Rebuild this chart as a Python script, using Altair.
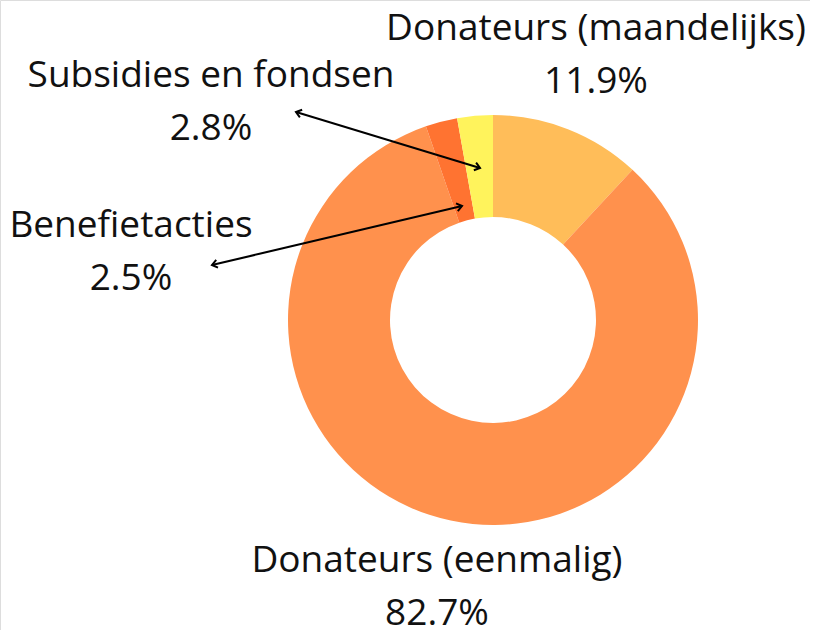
import altair as alt
import pandas as pd
import math

categories = ["Donateurs (maandelijks)", "Donateurs (eenmalig)", "Benefietacties", "Subsidies en fondsen"]
values = [11.9, 82.7, 2.5, 2.8]
colors = ["#FFBD59", "#FF914D", "#FF7331", "#FFF35C"]

df = pd.DataFrame({
    "category": categories,
    "value": values,
    "order": list(range(len(categories))),
})
df["label"] = [f"{c}\n{v:.1f}%" for c, v in zip(categories, values)]

W, H = 810, 630
CX, CY = 493, 320

base = alt.Chart(df)

donut = base.mark_arc(radius=205, radius2=103).encode(
    theta=alt.Theta("value:Q", stack=True),
    order=alt.Order("order:Q"),
    color=alt.Color("category:N", scale=alt.Scale(domain=categories, range=colors), legend=None),
    x=alt.value(CX),
    y=alt.value(CY),
)

# label anchor positions (layout, baseline of first line)
label_pos = {
    "Donateurs (maandelijks)": (596, 40),
    "Donateurs (eenmalig)": (437, 572),
    "Benefietacties": (131, 237),
    "Subsidies en fondsen": (211, 87),
}

layers = [donut]
for cat, (lx, ly) in label_pos.items():
    layers.append(
        alt.Chart(df).transform_filter(alt.datum.category == cat).mark_text(
            font="Open Sans", fontSize=37, color="#111111", align="center",
            baseline="alphabetic", lineBreak="\n", lineHeight=53,
        ).encode(text="label:N", x=alt.value(lx), y=alt.value(ly))
    )

# leader arrows: (tail x, tail y, head x, head y)
arrows = [
    ("Subsidies en fondsen", 296, 112, 480, 168),
    ("Benefietacties", 212, 265, 462, 206),
]
chevron = "M-1,-0.75L0,0L-1,0.75"
for cat, x1, y1, x2, y2 in arrows:
    one = alt.Chart(df).transform_filter(alt.datum.category == cat)
    layers.append(one.mark_rule(color="black", strokeWidth=2).encode(
        x=alt.value(x1), y=alt.value(y1), x2=alt.value(x2), y2=alt.value(y2)))
    ang = math.degrees(math.atan2(y2 - y1, x2 - x1)) % 360
    layers.append(one.mark_point(shape=chevron, size=110, filled=False, color="black",
                                 strokeWidth=2, angle=ang, opacity=1).encode(
        x=alt.value(x2), y=alt.value(y2)))
    layers.append(one.mark_point(shape=chevron, size=110, filled=False, color="black",
                                 strokeWidth=2, angle=(ang + 180) % 360, opacity=1).encode(
        x=alt.value(x1), y=alt.value(y1)))

chart = alt.layer(*layers).properties(
    width=W, height=H, autosize=alt.AutoSizeParams(type="none"), padding=0,
).configure_view(stroke=None).configure(background="white")

chart.save("out.html", embed_options={"renderer": "svg", "actions": False})
